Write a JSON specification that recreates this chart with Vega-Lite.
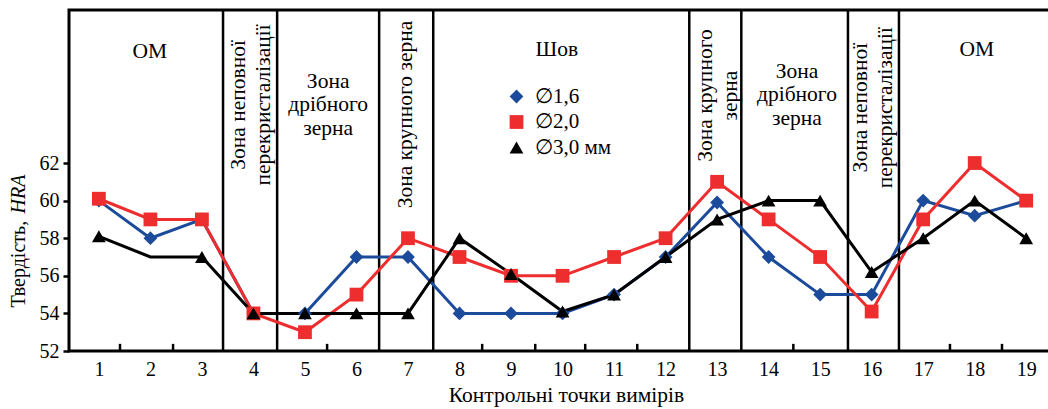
{
  "$schema": "https://vega.github.io/schema/vega-lite/v6.json",
  "width": 984,
  "height": 341,
  "autosize": "none",
  "padding": {"left": 69, "top": 10, "right": -5, "bottom": 58},
  "background": "white",
  "datasets": {
    "hardness": [
      {"x": 1, "s": "∅1,6", "v": 60}, {"x": 2, "s": "∅1,6", "v": 58}, {"x": 3, "s": "∅1,6", "v": 59}, {"x": 4, "s": "∅1,6", "v": 54}, {"x": 5, "s": "∅1,6", "v": 54}, {"x": 6, "s": "∅1,6", "v": 57}, {"x": 7, "s": "∅1,6", "v": 57}, {"x": 8, "s": "∅1,6", "v": 54}, {"x": 9, "s": "∅1,6", "v": 54}, {"x": 10, "s": "∅1,6", "v": 54}, {"x": 11, "s": "∅1,6", "v": 55}, {"x": 12, "s": "∅1,6", "v": 57}, {"x": 13, "s": "∅1,6", "v": 59.9}, {"x": 14, "s": "∅1,6", "v": 57}, {"x": 15, "s": "∅1,6", "v": 55}, {"x": 16, "s": "∅1,6", "v": 55}, {"x": 17, "s": "∅1,6", "v": 60}, {"x": 18, "s": "∅1,6", "v": 59.2}, {"x": 19, "s": "∅1,6", "v": 60},
      {"x": 1, "s": "∅2,0", "v": 60.1}, {"x": 2, "s": "∅2,0", "v": 59}, {"x": 3, "s": "∅2,0", "v": 59}, {"x": 4, "s": "∅2,0", "v": 54}, {"x": 5, "s": "∅2,0", "v": 53}, {"x": 6, "s": "∅2,0", "v": 55}, {"x": 7, "s": "∅2,0", "v": 58}, {"x": 8, "s": "∅2,0", "v": 57}, {"x": 9, "s": "∅2,0", "v": 56}, {"x": 10, "s": "∅2,0", "v": 56}, {"x": 11, "s": "∅2,0", "v": 57}, {"x": 12, "s": "∅2,0", "v": 58}, {"x": 13, "s": "∅2,0", "v": 61}, {"x": 14, "s": "∅2,0", "v": 59}, {"x": 15, "s": "∅2,0", "v": 57}, {"x": 16, "s": "∅2,0", "v": 54.1}, {"x": 17, "s": "∅2,0", "v": 59}, {"x": 18, "s": "∅2,0", "v": 62}, {"x": 19, "s": "∅2,0", "v": 60},
      {"x": 1, "s": "∅3,0 мм", "v": 58.1}, {"x": 2, "s": "∅3,0 мм", "v": 57}, {"x": 3, "s": "∅3,0 мм", "v": 57}, {"x": 4, "s": "∅3,0 мм", "v": 54}, {"x": 5, "s": "∅3,0 мм", "v": 54}, {"x": 6, "s": "∅3,0 мм", "v": 54}, {"x": 7, "s": "∅3,0 мм", "v": 54}, {"x": 8, "s": "∅3,0 мм", "v": 58}, {"x": 9, "s": "∅3,0 мм", "v": 56.1}, {"x": 10, "s": "∅3,0 мм", "v": 54.1}, {"x": 11, "s": "∅3,0 мм", "v": 55}, {"x": 12, "s": "∅3,0 мм", "v": 57}, {"x": 13, "s": "∅3,0 мм", "v": 59}, {"x": 14, "s": "∅3,0 мм", "v": 60}, {"x": 15, "s": "∅3,0 мм", "v": 60}, {"x": 16, "s": "∅3,0 мм", "v": 56.2}, {"x": 17, "s": "∅3,0 мм", "v": 58}, {"x": 18, "s": "∅3,0 мм", "v": 60}, {"x": 19, "s": "∅3,0 мм", "v": 58}
    ],
    "zones": [
      {"b": 3.41}, {"b": 4.46}, {"b": 6.44}, {"b": 7.49}, {"b": 12.46}, {"b": 13.47}, {"b": 15.54}, {"b": 16.53}
    ],
    "ticks": [
      {"b": 1.41}, {"b": 2.44}, {"b": 5.43}, {"b": 8.44}, {"b": 9.47}, {"b": 10.44}, {"b": 11.45}, {"b": 14.48}, {"b": 17.52}, {"b": 18.53}
    ],
    "hlabels": [
      {"x": 1.99, "y": 67.92, "t": "ОМ"},
      {"x": 5.45, "y": 66.33, "t": "Зона\nдрібного\nзерна"},
      {"x": 9.89, "y": 68.0, "t": "Шов"},
      {"x": 14.55, "y": 66.86, "t": "Зона\nдрібного\nзерна"},
      {"x": 18.04, "y": 68.0, "t": "ОМ"}
    ],
    "vlabels": [
      {"x": 3.72, "y": 65.09, "t": "Зона неповної\nперекристалізації"},
      {"x": 6.97, "y": 64.58, "t": "Зона крупного зерна"},
      {"x": 12.79, "y": 65.59, "t": "Зона крупного\nзерна"},
      {"x": 15.8, "y": 64.95, "t": "Зона неповної\nперекристалізації"}
    ]
  },
  "config": {
    "font": "Liberation Serif",
    "view": {"stroke": "black", "strokeWidth": 3},
    "axis": {"labelColor": "black", "titleColor": "black", "tickColor": "black", "domain": false, "grid": false, "labelFont": "Liberation Serif", "titleFont": "Liberation Serif", "labelFontSize": 20, "titleFontSize": 21.5, "titleFontWeight": "normal"},
    "legend": {"labelFont": "Liberation Serif", "labelFontSize": 21, "labelColor": "black"}
  },
  "resolve": {"axis": {"y": "independent"}},
  "layer": [
    {
      "data": {"name": "zones"},
      "mark": {"type": "rule", "color": "black", "strokeWidth": 2.5},
      "encoding": {
        "x": {"field": "b", "type": "quantitative",
          "scale": {"domain": [0.42, 19.52], "nice": false, "zero": false},
          "axis": {"orient": "bottom", "values": [1,2,3,4,5,6,7,8,9,10,11,12,13,14,15,16,17,18,19], "ticks": false, "labelPadding": 8, "labelFlush": false, "labelOverlap": false, "title": "Контрольні точки вимірів", "titleX": 497, "titleY": 44, "titleBaseline": "middle"}}
      }
    },
    {
      "data": {"name": "ticks"},
      "mark": {"type": "rule", "color": "black", "strokeWidth": 2.5},
      "encoding": {
        "x": {"field": "b", "type": "quantitative"},
        "y": {"datum": 52, "type": "quantitative", "axis": null},
        "y2": {"datum": 52.38}
      }
    },
    {
      "data": {"name": "hardness"},
      "mark": {"type": "line", "strokeWidth": 3},
      "encoding": {
        "x": {"field": "x", "type": "quantitative"},
        "y": {"field": "v", "type": "quantitative",
          "scale": {"domain": [52, 70.14], "nice": false, "zero": false},
          "axis": {"orient": "left", "values": [52, 54, 56, 58, 60, 62], "tickSize": 6, "tickWidth": 2.5, "labelPadding": 4, "title": "Твердість,", "titleFontSize": 20, "titleAngle": -90, "titleAlign": "left", "titleBaseline": "middle", "titleX": -51, "titleY": 297}},
        "stroke": {"field": "s", "type": "nominal", "legend": null,
          "scale": {"range": ["#1c4b9b", "#ee2e2e", "#000000"]}}
      }
    },
    {
      "data": {"name": "hardness"},
      "transform": [{"filter": "!(datum.s == '∅3,0 мм' && datum.x == 2)"}],
      "mark": {"type": "point", "filled": true, "size": 190, "opacity": 1},
      "encoding": {
        "x": {"field": "x", "type": "quantitative"},
        "y": {"field": "v", "type": "quantitative",
          "axis": {"orient": "left", "ticks": false, "labels": false, "title": "HRA", "titleFontSize": 20, "titleFontStyle": "italic", "titleAngle": -90, "titleAlign": "left", "titleBaseline": "middle", "titleX": -51, "titleY": 203}},
        "color": {"field": "s", "type": "nominal",
          "scale": {"domain": ["∅1,6", "∅2,0", "∅3,0 мм"], "range": ["#1c4b9b", "#ee2e2e", "#000000"]},
          "legend": {"orient": "none", "legendX": 437, "legendY": 76, "title": null, "padding": 0, "symbolSize": 190, "labelOffset": 8, "rowPadding": 3.5, "symbolStrokeWidth": 0}},
        "shape": {"field": "s", "type": "nominal",
          "scale": {"domain": ["∅1,6", "∅2,0", "∅3,0 мм"], "range": ["diamond", "square", "triangle-up"]},
          "legend": {"orient": "none", "legendX": 437, "legendY": 76, "title": null, "padding": 0, "symbolSize": 190, "labelOffset": 8, "rowPadding": 3.5, "symbolStrokeWidth": 0}}
      }
    },
    {
      "data": {"name": "hlabels"},
      "mark": {"type": "text", "font": "Liberation Serif", "fontSize": 21.5, "color": "black", "align": "center", "baseline": "middle", "lineBreak": "\n", "lineHeight": 23.5},
      "encoding": {
        "x": {"field": "x", "type": "quantitative"},
        "y": {"field": "y", "type": "quantitative", "axis": null},
        "text": {"field": "t", "type": "nominal"}
      }
    },
    {
      "data": {"name": "vlabels"},
      "mark": {"type": "text", "font": "Liberation Serif", "fontSize": 21.5, "color": "black", "align": "center", "baseline": "middle", "angle": -90, "lineBreak": "\n", "lineHeight": 25},
      "encoding": {
        "x": {"field": "x", "type": "quantitative"},
        "y": {"field": "y", "type": "quantitative", "axis": null},
        "text": {"field": "t", "type": "nominal"}
      }
    }
  ]
}
